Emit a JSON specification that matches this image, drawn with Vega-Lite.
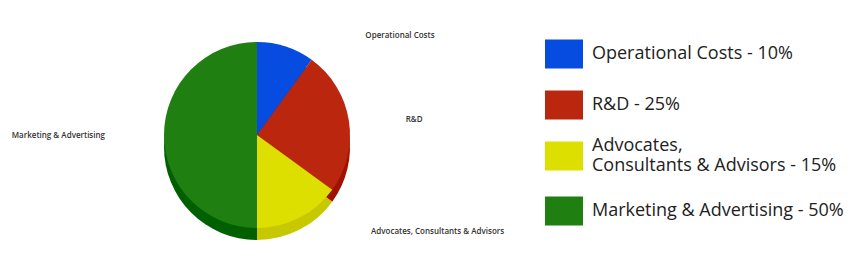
{
  "$schema": "https://vega.github.io/schema/vega-lite/v6.json",
  "width": 514,
  "height": 278,
  "autosize": {"type": "none"},
  "padding": {"left": 0, "top": 0, "right": 352, "bottom": 0},
  "background": "white",
  "config": {"view": {"stroke": null}},
  "data": {
    "values": [
      {"name": "Operational Costs", "legend": "Operational Costs  - 10%", "share": 10, "k": 1},
      {"name": "R&D", "legend": "R&D - 25%", "share": 25, "k": 2},
      {"name": "Advocates, Consultants & Advisors", "legend": "Advocates, Consultants & Advisors - 15%", "share": 15, "k": 3},
      {"name": "Marketing & Advertising", "legend": "Marketing & Advertising - 50%", "share": 50, "k": 4}
    ]
  },
  "encoding": {
    "theta": {"field": "share", "type": "quantitative", "stack": true},
    "order": {"field": "k", "type": "quantitative"}
  },
  "layer": [
    {
      "mark": {"type": "arc", "outerRadius": 93, "yOffset": 8},
      "encoding": {
        "color": {
          "field": "legend", "type": "nominal", "legend": null,
          "scale": {
            "domain": ["Operational Costs  - 10%", "R&D - 25%", "Advocates, Consultants & Advisors - 15%", "Marketing & Advertising - 50%"],
            "range": ["#0338b0", "#a01200", "#c8c800", "#006000"]
          }
        }
      }
    },
    {
      "mark": {"type": "arc", "outerRadius": 93, "yOffset": -4},
      "encoding": {
        "color": {
          "field": "legend", "type": "nominal",
          "scale": {
            "domain": ["Operational Costs  - 10%", "R&D - 25%", "Advocates, Consultants & Advisors - 15%", "Marketing & Advertising - 50%"],
            "range": ["#064ce1", "#bb260e", "#dddf00", "#1f7f10"]
          },
          "legend": {
            "orient": "none",
            "legendX": 545,
            "legendY": 35,
            "title": null,
            "padding": 0,
            "symbolType": "M-1,-0.763H1V0.763H-1Z",
            "symbolSize": 1444,
            "symbolStrokeWidth": 0,
            "symbolOpacity": 1,
            "labelFont": "Open Sans",
            "labelFontSize": 18,
            "labelLineHeight": 23,
            "labelColor": "#222222",
            "labelOffset": 9,
            "labelLimit": 400,
            "rowPadding": 17,
            "labelBaseline": {"expr": "datum.value == 'Advocates, Consultants & Advisors - 15%' ? 'line-bottom' : 'middle'"},
            "labelExpr": "datum.value == 'Advocates, Consultants & Advisors - 15%' ? ['Advocates,', 'Consultants & Advisors - 15%'] : datum.label"
          }
        }
      }
    },
    {
      "mark": {
        "type": "text", "radius": 108, "yOffset": -4, "baseline": "middle",
        "font": "Open Sans", "fontSize": 8, "fontWeight": 600, "color": "#333333",
        "align": {"expr": "datum.k == 4 ? 'right' : 'left'"},
        "dx": {"expr": "datum.k == 1 ? 75 : datum.k == 2 ? 42 : datum.k == 3 ? 65 : -44"},
        "dy": {"expr": "datum.k == 1 ? 4 : datum.k == 2 ? 2 : datum.k == 3 ? 1 : 1"}
      },
      "encoding": {"text": {"field": "name"}}
    }
  ],
  "resolve": {"scale": {"color": "independent"}}
}
